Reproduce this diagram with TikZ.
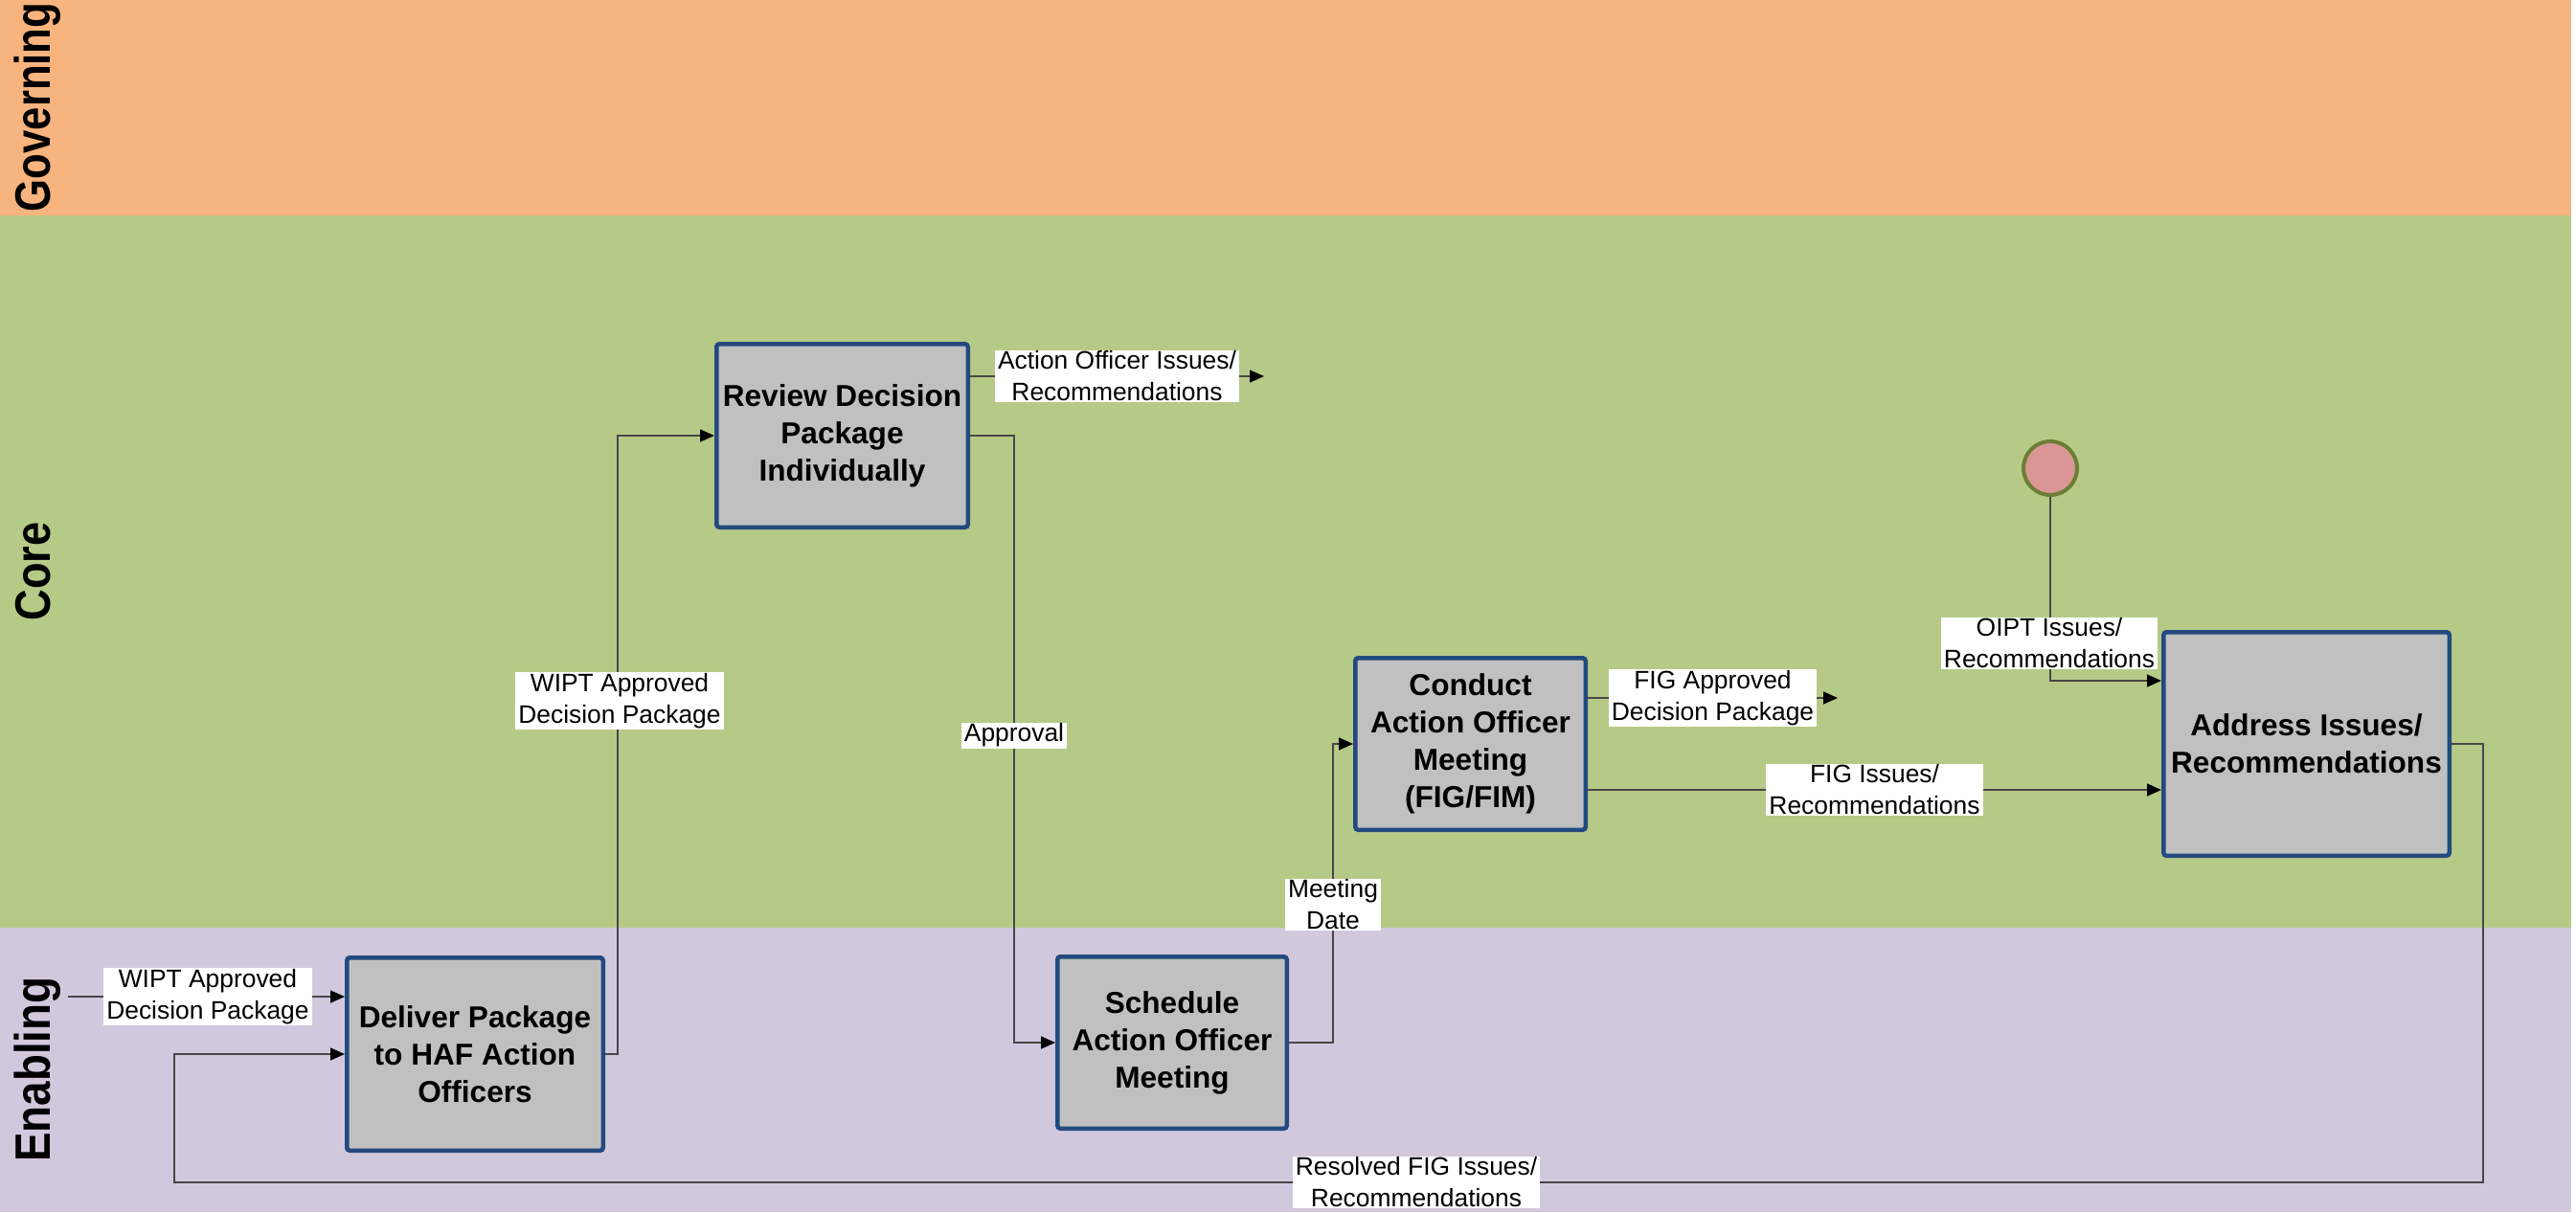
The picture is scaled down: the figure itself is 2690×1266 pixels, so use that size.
\documentclass[tikz,border=0pt]{standalone}
\usepackage{fontspec}
\setmainfont{Liberation Sans}
\usetikzlibrary{arrows.meta,calc}
\definecolor{govc}{HTML}{F8B47E}
\definecolor{corec}{HTML}{B6CA87}
\definecolor{enac}{HTML}{D2C8DE}
\definecolor{boxgray}{HTML}{C0C0C0}
\definecolor{boxblue}{HTML}{234A7F}
\definecolor{evpink}{HTML}{DA9694}
\definecolor{evgreen}{HTML}{6A7F35}
\begin{document}
\begin{tikzpicture}[x=0.5pt,y=-0.5pt,
  proc/.style={draw=boxblue, fill=boxgray, line width=2.25pt, rounded corners=1.5pt,
    align=center, inner sep=1pt, font=\fontsize{15.8}{19.5}\selectfont\bfseries},
  lbl/.style={fill=white, align=center, inner xsep=1.5pt, inner ysep=0.6pt,
    font=\fontsize{13.2}{16.5}\selectfont},
  conn/.style={draw=black!72, line width=0.8pt, -{Triangle[length=7.5pt,width=6.5pt,color=black]}},
  plain/.style={draw=black!72, line width=0.8pt},
  lanelbl/.style={rotate=90, anchor=base, inner sep=0pt, font=\fontsize{26}{30}\selectfont\bfseries}
]
\useasboundingbox (0,0) rectangle (2690,1266);
% lanes
\fill[govc] (0,0) rectangle (2685,225);
\fill[corec] (0,225) rectangle (2685,969);
\fill[enac] (0,969) rectangle (2685,1266);
\node[lanelbl] (lgov) at (52,112) {\scalebox{0.84}[1]{Governing}};
\node[lanelbl] (lcore) at (52,597) {\scalebox{0.87}[1]{Core}};
\node[lanelbl] (lena) at (52,1117) {\scalebox{0.88}[1]{Enabling}};

% process boxes
\node[proc, minimum width=131.25pt, minimum height=95.75pt] (review) at (879.5,455) {Review Decision\\Package\\Individually};
\node[proc, minimum width=133.75pt, minimum height=100.75pt] (deliver) at (496,1101) {Deliver Package\\to HAF Action\\Officers};
\node[proc, minimum width=119.75pt, minimum height=89.75pt] (schedule) at (1224,1089) {Schedule\\Action Officer\\Meeting};
\node[proc, minimum width=120.25pt, minimum height=89.75pt] (conduct) at (1535.5,777) {Conduct\\Action Officer\\Meeting\\(FIG/FIM)};
\node[proc, minimum width=149.25pt, minimum height=116.75pt] (address) at (2408.5,777) {Address Issues/\\Recommendations};
\node[circle, draw=evgreen, fill=evpink, line width=2pt, minimum size=28pt, inner sep=0pt] (evt) at (2141,489) {};

% free ends / helper coordinates
\coordinate (s1) at (71,1041);
\coordinate (aoi) at (1320,393);
\coordinate (figa) at (1919,729);
\coordinate (figy) at (0,825);
\coordinate (oipty) at (0,711);
\coordinate (rx) at (2593,777);
\coordinate (bl) at (182,1235);

% connectors
\draw[conn] (s1) -- (s1 -| deliver.west)
  node[lbl, pos=0.505] (l1) {WIPT Approved\\Decision Package};
\draw[conn] (deliver.east) -- ++(13,0) |- (review.west);
\draw[conn] (review.east |- aoi) -- (aoi)
  node[lbl, midway] (l3) {Action Officer Issues/\\Recommendations};
\draw[conn] (review.east) -- ++(46,0) |- (schedule.west);
\draw[conn] (schedule.east) -- ++(46,0) |- (conduct.west);
\draw[conn] (conduct.east |- figa) -- (figa)
  node[lbl, midway] (l6) {FIG Approved\\Decision Package};
\draw[conn] (conduct.east |- figy) -- (address.west |- figy)
  node[lbl, midway] (l7) {FIG Issues/\\Recommendations};
\draw[conn] (evt.south) |- (address.west |- oipty);
\draw[conn] (address.east) -- (rx) |- (bl) |- (deliver.west);

% labels placed on vertical / long segments
\node[lbl] (l2) at (647,732) {WIPT Approved\\Decision Package};
\node[lbl] (l4) at (1059,768) {Approval};
\node[lbl] (l5) at (1392,945) {Meeting\\Date};
\node[lbl] (l8) at (2140,672) {OIPT Issues/\\Recommendations};
\node[lbl] (l9) at (1479,1235) {Resolved FIG Issues/\\Recommendations};
\end{tikzpicture}
\end{document}
